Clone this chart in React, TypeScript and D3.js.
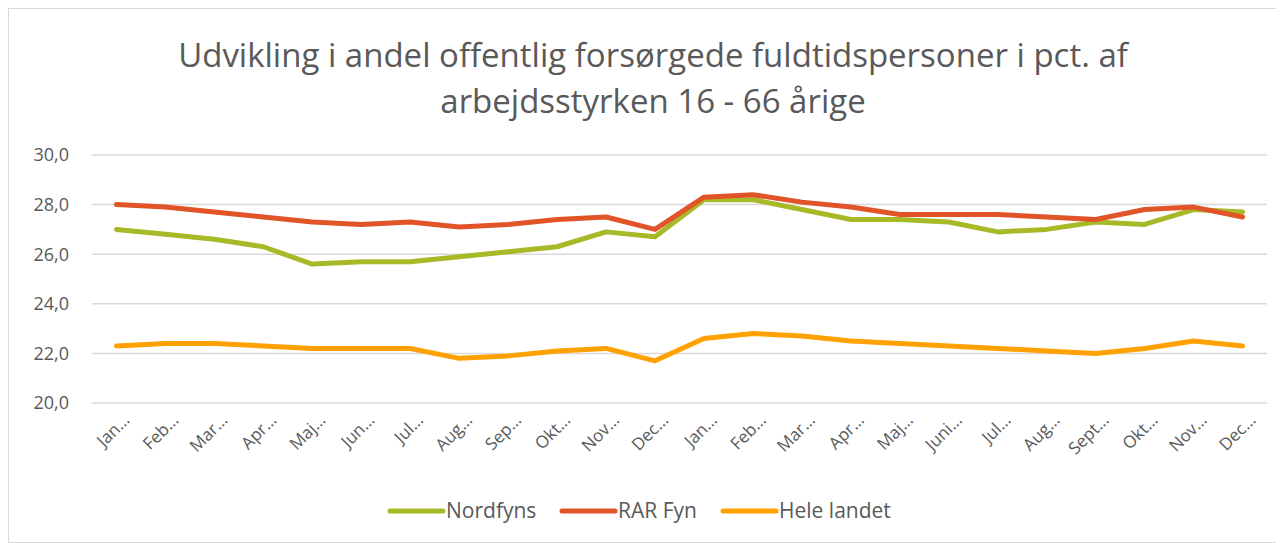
import React, { useEffect, useRef } from 'react';
import * as d3 from 'd3';

const months = ['Jan…', 'Feb…', 'Mar…', 'Apr…', 'Maj…', 'Jun…', 'Jul…', 'Aug…', 'Sep…', 'Okt…', 'Nov…', 'Dec…',
  'Jan…', 'Feb…', 'Mar…', 'Apr…', 'Maj…', 'Juni…', 'Jul…', 'Aug…', 'Sept…', 'Okt…', 'Nov…', 'Dec…'];
const nordfyns = [27.0, 26.8, 26.6, 26.3, 25.6, 25.7, 25.7, 25.9, 26.1, 26.3, 26.9, 26.7,
  28.2, 28.2, 27.8, 27.4, 27.4, 27.3, 26.9, 27.0, 27.3, 27.2, 27.8, 27.7];
const rarFyn = [28.0, 27.9, 27.7, 27.5, 27.3, 27.2, 27.3, 27.1, 27.2, 27.4, 27.5, 27.0,
  28.3, 28.4, 28.1, 27.9, 27.6, 27.6, 27.6, 27.5, 27.4, 27.8, 27.9, 27.5];
const heleLandet = [22.3, 22.4, 22.4, 22.3, 22.2, 22.2, 22.2, 21.8, 21.9, 22.1, 22.2, 21.7,
  22.6, 22.8, 22.7, 22.5, 22.4, 22.3, 22.2, 22.1, 22.0, 22.2, 22.5, 22.3];
const yTicks = [20, 22, 24, 26, 28, 30];
const seriesNames = ['Nordfyns', 'RAR Fyn', 'Hele landet'];
const seriesColors = ['#a8b928', '#e05428', '#ffa100'];

const W = 1276;
const H = 535;

const App = () => {
  const svgRef = useRef<SVGSVGElement>(null);

  useEffect(() => {
    const svg = d3.select(svgRef.current);
    svg.selectAll('*').remove();

    const font = '"Open Sans", "Noto Sans", sans-serif';
    const left = 84, right = 1259, top = 147, bottom = 395;

    svg.append('rect')
      .attr('x', 0.5).attr('y', 0.5)
      .attr('width', W - 1).attr('height', H - 1)
      .attr('fill', 'white').attr('stroke', '#d9d9d9');

    const x = d3.scaleBand<number>()
      .domain(d3.range(months.length))
      .range([left, right]);
    const y = d3.scaleLinear().domain([20, 30]).range([bottom, top]);
    const cx = (i: number) => (x(i) as number) + x.bandwidth() / 2;

    // title
    const title = svg.append('text')
      .attr('text-anchor', 'middle')
      .attr('fill', '#595959')
      .style('font-family', font)
      .style('font-size', '33px');
    title.append('tspan').attr('x', 645).attr('y', 59)
      .text('Udvikling i andel offentlig forsørgede fuldtidspersoner i pct. af');
    title.append('tspan').attr('x', 645).attr('y', 105)
      .text('arbejdsstyrken 16 - 66 årige');

    // gridlines + y labels
    svg.append('g').selectAll('line')
      .data(yTicks).enter().append('line')
      .attr('x1', left).attr('x2', right)
      .attr('y1', d => y(d)).attr('y2', d => y(d))
      .attr('stroke', '#d9d9d9').attr('stroke-width', 1.5);

    svg.append('g').selectAll('text')
      .data(yTicks).enter().append('text')
      .attr('x', 61).attr('y', d => y(d))
      .attr('dy', '0.35em')
      .attr('text-anchor', 'end')
      .attr('fill', '#595959')
      .style('font-family', font)
      .style('font-size', '18px')
      .text(d => d3.format('.1f')(d).replace('.', ','));

    // x labels
    svg.append('g').selectAll('text')
      .data(months).enter().append('text')
      .attr('transform', (d, i) => `translate(${cx(i) + 10},${bottom + 14}) rotate(-45)`)
      .attr('text-anchor', 'end')
      .attr('dy', '0.35em')
      .attr('fill', '#595959')
      .style('font-family', font)
      .style('font-size', '17px')
      .text(d => d);

    const line = d3.line<number>()
      .x((d, i) => cx(i))
      .y(d => y(d));

    const allSeries = [nordfyns, rarFyn, heleLandet];
    allSeries.forEach((s, k) => {
      svg.append('path')
        .datum(s)
        .attr('d', line)
        .attr('fill', 'none')
        .attr('stroke', seriesColors[k])
        .attr('stroke-width', 5)
        .attr('stroke-linejoin', 'round')
        .attr('stroke-linecap', 'round');
    });

    // legend
    const legendX = [382, 554, 715];
    const legend = svg.append('g');
    seriesNames.forEach((name, k) => {
      legend.append('line')
        .attr('x1', legendX[k]).attr('x2', legendX[k] + 53)
        .attr('y1', 503).attr('y2', 503)
        .attr('stroke', seriesColors[k])
        .attr('stroke-width', 5)
        .attr('stroke-linecap', 'round');
      legend.append('text')
        .attr('x', legendX[k] + 56).attr('y', 503)
        .attr('dy', '0.35em')
        .attr('fill', '#595959')
        .style('font-family', font)
        .style('font-size', '21px')
        .text(name);
    });
  }, []);

  return <svg ref={svgRef} width={W} height={H} style={{ display: 'block' }} />;
};

export default App;
